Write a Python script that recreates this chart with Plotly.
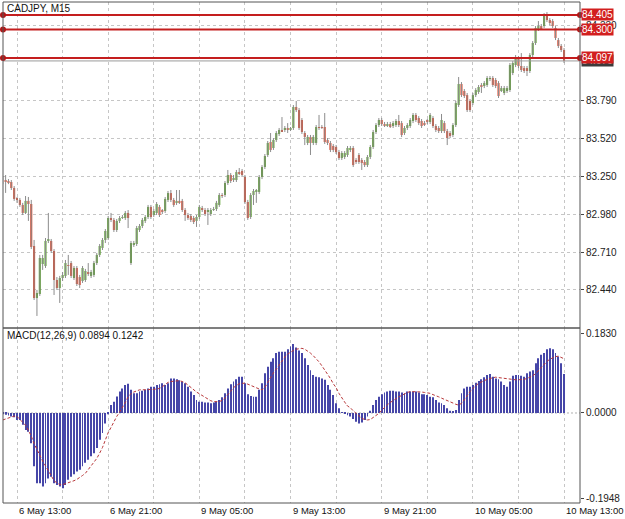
import plotly.graph_objects as go

# ---------------- data ----------------
opens = [83.225,83.225,83.218,83.211,83.168,83.090,83.083,83.047,82.990,83.076,
         83.054,82.754,82.382,82.411,82.625,82.611,82.790,82.790,82.718,82.511,
         82.454,82.525,82.540,82.618,82.632,82.525,82.597,82.532,82.504,82.511,
         82.561,82.540,82.547,82.632,82.690,82.740,82.797,82.811,82.954,82.940,
         82.868,82.933,82.954,82.954,82.990,82.632,82.761,82.768,82.868,82.897,
         82.933,82.961,83.033,82.975,82.990,83.033,83.004,83.004,83.083,83.132,
         83.083,83.062,83.076,83.076,83.011,82.975,82.968,82.954,82.933,82.961,
         83.025,83.011,82.997,82.982,83.011,83.018,83.047,83.118,83.118,83.204,
         83.261,83.225,83.225,83.282,83.290,83.247,83.068,82.961,83.118,83.140,
         83.140,83.247,83.318,83.404,83.497,83.454,83.511,83.554,83.583,83.583,
         83.597,83.583,83.597,83.747,83.725,83.654,83.561,83.490,83.533,83.490,
         83.490,83.604,83.604,83.604,83.511,83.490,83.468,83.461,83.425,83.382,
         83.390,83.404,83.440,83.454,83.368,83.404,83.368,83.354,83.332,83.390,
         83.461,83.568,83.618,83.654,83.625,83.618,83.625,83.611,83.618,83.647,
         83.632,83.561,83.597,83.611,83.647,83.690,83.668,83.647,83.632,83.647,
         83.640,83.668,83.611,83.597,83.575,83.632,83.575,83.561,83.547,83.618,
         83.761,83.911,83.861,83.832,83.790,83.775,83.832,83.854,83.897,83.897,
         83.904,83.947,83.954,83.940,83.918,83.868,83.847,83.861,83.868,83.990,
         84.047,84.097,84.040,84.025,84.025,84.004,84.118,84.204,84.304,84.325,
         84.325,84.404,84.368,84.361,84.311,84.225,84.183,84.154]
highs = [83.247,83.261,83.232,83.225,83.182,83.104,83.097,83.062,83.111,83.104,
         83.083,82.797,82.440,82.690,82.690,82.811,82.990,82.804,82.732,82.532,
         82.540,82.568,82.654,82.690,82.647,82.611,82.611,82.547,82.611,82.590,
         82.632,82.583,82.647,82.704,82.768,82.811,82.875,82.968,82.990,82.954,
         82.947,82.968,82.975,83.004,83.011,82.790,82.790,82.897,82.911,82.954,
         82.975,83.047,83.047,83.018,83.068,83.047,83.018,83.104,83.147,83.154,
         83.097,83.154,83.154,83.090,83.025,82.990,82.982,82.968,82.975,83.047,
         83.040,83.025,83.025,83.025,83.033,83.076,83.132,83.132,83.218,83.297,
         83.275,83.261,83.297,83.311,83.304,83.261,83.083,83.132,83.161,83.161,
         83.261,83.332,83.411,83.504,83.561,83.525,83.575,83.597,83.675,83.611,
         83.632,83.604,83.761,83.790,83.740,83.668,83.575,83.547,83.547,83.547,
         83.618,83.690,83.618,83.704,83.525,83.504,83.482,83.475,83.440,83.432,
         83.432,83.468,83.468,83.468,83.382,83.418,83.382,83.368,83.404,83.475,
         83.583,83.632,83.668,83.668,83.640,83.640,83.640,83.647,83.661,83.690,
         83.647,83.611,83.632,83.668,83.704,83.704,83.682,83.661,83.647,83.661,
         83.704,83.682,83.625,83.611,83.697,83.647,83.590,83.575,83.632,83.790,
         83.961,83.925,83.875,83.847,83.804,83.847,83.882,83.904,83.918,83.932,
         83.968,83.968,83.968,83.954,83.932,83.897,83.897,83.897,84.061,84.075,
         84.118,84.111,84.132,84.040,84.040,84.132,84.218,84.325,84.361,84.340,
         84.418,84.425,84.382,84.375,84.325,84.240,84.197,84.168]
lows = [83.196,83.133,83.196,83.154,83.076,83.062,83.033,82.975,82.982,82.933,
        82.732,82.368,82.254,82.397,82.583,82.597,82.775,82.704,82.404,82.440,
        82.347,82.504,82.525,82.547,82.525,82.511,82.468,82.454,82.490,82.497,
        82.540,82.525,82.532,82.618,82.675,82.725,82.775,82.797,82.925,82.854,
        82.854,82.918,82.947,82.940,82.882,82.618,82.747,82.754,82.854,82.882,
        82.918,82.947,82.947,82.961,82.975,82.961,82.982,82.990,83.068,83.068,
        83.033,83.047,83.054,82.997,82.933,82.940,82.925,82.911,82.890,82.947,
        82.997,82.968,82.904,82.968,83.004,83.004,83.033,83.097,83.104,83.190,
        83.204,83.211,83.211,83.261,83.247,83.054,82.940,82.947,83.047,83.062,
        83.125,83.232,83.304,83.390,83.425,83.440,83.497,83.540,83.568,83.568,
        83.561,83.575,83.583,83.711,83.583,83.554,83.475,83.475,83.404,83.475,
        83.475,83.583,83.590,83.483,83.475,83.425,83.425,83.411,83.368,83.368,
        83.375,83.390,83.425,83.318,83.340,83.340,83.297,83.318,83.318,83.375,
        83.447,83.554,83.604,83.611,83.604,83.604,83.597,83.597,83.604,83.604,
        83.532,83.547,83.583,83.597,83.632,83.640,83.618,83.597,83.611,83.625,
        83.625,83.597,83.568,83.561,83.561,83.561,83.475,83.525,83.532,83.604,
        83.747,83.818,83.811,83.711,83.711,83.761,83.818,83.840,83.847,83.882,
        83.890,83.932,83.890,83.882,83.811,83.854,83.832,83.847,83.854,83.975,
        84.032,84.025,83.997,83.990,83.968,83.990,84.104,84.190,84.290,84.297,
        84.311,84.354,84.332,84.311,84.225,84.168,84.140,84.061]
closes = [83.225,83.218,83.211,83.168,83.090,83.083,83.047,82.990,83.076,83.054,
          82.747,82.382,82.418,82.668,82.668,82.790,82.797,82.718,82.511,82.454,
          82.525,82.547,82.632,82.611,82.540,82.597,82.482,82.475,82.597,82.575,
          82.554,82.568,82.632,82.690,82.754,82.797,82.861,82.954,82.940,82.868,
          82.933,82.954,82.961,82.990,82.954,82.775,82.775,82.882,82.897,82.940,
          82.961,83.033,82.961,83.004,83.054,82.975,82.997,83.090,83.132,83.083,
          83.047,83.076,83.068,83.011,82.975,82.954,82.940,82.925,82.961,83.033,
          83.011,82.982,83.004,83.011,83.018,83.062,83.118,83.111,83.204,83.261,
          83.218,83.240,83.282,83.275,83.261,83.068,82.954,83.118,83.147,83.147,
          83.247,83.318,83.397,83.490,83.440,83.511,83.561,83.583,83.575,83.597,
          83.583,83.590,83.747,83.725,83.597,83.568,83.533,83.533,83.490,83.533,
          83.604,83.597,83.600,83.497,83.490,83.440,83.440,83.425,83.382,83.418,
          83.418,83.454,83.454,83.332,83.354,83.354,83.347,83.332,83.390,83.461,
          83.568,83.618,83.654,83.625,83.618,83.625,83.611,83.632,83.647,83.618,
          83.547,83.597,83.618,83.654,83.690,83.654,83.632,83.611,83.625,83.640,
          83.690,83.611,83.583,83.575,83.654,83.575,83.525,83.540,83.618,83.775,
          83.911,83.832,83.825,83.725,83.725,83.832,83.868,83.890,83.893,83.918,
          83.954,83.954,83.904,83.897,83.825,83.882,83.882,83.882,84.047,84.061,
          84.097,84.040,84.011,84.004,84.004,84.118,84.204,84.311,84.325,84.311,
          84.404,84.368,84.347,84.325,84.240,84.183,84.154,84.076]

macd = [-0.003,-0.004,-0.006,-0.008,-0.010,-0.016,-0.016,-0.027,-0.039,-0.043,
        -0.069,-0.122,-0.161,-0.161,-0.168,-0.161,-0.150,-0.146,-0.161,-0.165,
        -0.168,-0.172,-0.165,-0.153,-0.146,-0.140,-0.134,-0.130,-0.122,-0.114,
        -0.107,-0.099,-0.092,-0.080,-0.061,-0.046,-0.024,-0.003,0.018,0.026,
        0.038,0.049,0.056,0.064,0.067,0.053,0.045,0.045,0.049,0.051,
        0.053,0.056,0.060,0.060,0.064,0.066,0.068,0.064,0.068,0.079,
        0.079,0.077,0.075,0.072,0.068,0.060,0.049,0.041,0.030,0.026,
        0.026,0.024,0.024,0.022,0.024,0.026,0.030,0.036,0.045,0.056,
        0.066,0.072,0.077,0.083,0.083,0.068,0.043,0.039,0.037,0.037,
        0.053,0.068,0.091,0.106,0.117,0.125,0.137,0.140,0.140,0.140,
        0.146,0.152,0.158,0.150,0.143,0.137,0.125,0.110,0.098,0.087,
        0.083,0.082,0.079,0.076,0.064,0.053,0.041,0.022,0.011,0.002,
        -0.002,-0.005,-0.008,-0.014,-0.020,-0.024,-0.022,-0.016,-0.008,0.005,
        0.018,0.030,0.037,0.043,0.047,0.049,0.051,0.051,0.049,0.049,
        0.047,0.045,0.049,0.049,0.049,0.049,0.047,0.043,0.043,0.041,
        0.037,0.036,0.030,0.024,0.022,0.018,0.011,0.005,0.003,0.007,
        0.030,0.045,0.056,0.060,0.060,0.064,0.069,0.073,0.077,0.082,
        0.087,0.089,0.083,0.079,0.077,0.072,0.064,0.060,0.072,0.085,
        0.087,0.087,0.085,0.083,0.091,0.095,0.098,0.114,0.125,0.133,
        0.137,0.146,0.148,0.146,0.137,0.129,0.114,0.0894]
signal = [-0.016,-0.014,-0.011,-0.009,-0.007,-0.008,-0.015,-0.022,-0.028,-0.040,
          -0.053,-0.070,-0.084,-0.097,-0.110,-0.121,-0.133,-0.143,-0.155,-0.160,
          -0.164,-0.164,-0.162,-0.160,-0.158,-0.155,-0.152,-0.148,-0.143,-0.138,
          -0.130,-0.122,-0.113,-0.104,-0.092,-0.079,-0.062,-0.045,-0.033,-0.020,
          -0.008,0.002,0.012,0.024,0.037,0.044,0.048,0.051,0.053,0.053,
          0.053,0.053,0.054,0.054,0.055,0.056,0.060,0.065,0.070,0.072,
          0.073,0.074,0.074,0.072,0.069,0.064,0.058,0.053,0.048,0.044,
          0.040,0.035,0.031,0.028,0.026,0.026,0.026,0.029,0.034,0.042,
          0.050,0.058,0.063,0.067,0.068,0.068,0.066,0.063,0.060,0.058,
          0.055,0.053,0.058,0.070,0.082,0.092,0.100,0.110,0.120,0.128,
          0.135,0.140,0.143,0.146,0.147,0.148,0.146,0.142,0.137,0.131,
          0.125,0.117,0.108,0.099,0.090,0.079,0.067,0.058,0.045,0.034,
          0.025,0.016,0.012,0.005,-0.001,-0.007,-0.012,-0.015,-0.016,-0.015,
          -0.011,-0.007,-0.001,0.006,0.013,0.019,0.024,0.029,0.034,0.037,
          0.040,0.044,0.047,0.049,0.049,0.049,0.049,0.048,0.047,0.046,
          0.045,0.042,0.040,0.037,0.034,0.031,0.028,0.026,0.023,0.020,
          0.018,0.022,0.030,0.040,0.049,0.056,0.063,0.068,0.071,0.075,
          0.077,0.079,0.081,0.082,0.081,0.080,0.079,0.078,0.077,0.076,
          0.076,0.076,0.076,0.077,0.079,0.082,0.085,0.090,0.097,0.104,
          0.112,0.118,0.123,0.126,0.129,0.130,0.128,0.1242]

time_labels = ["6 May 13:00", "6 May 21:00", "9 May 05:00", "9 May 13:00",
               "9 May 21:00", "10 May 05:00", "10 May 13:00"]
label_bars = [5, 37, 69, 101, 133, 165, 197]
grid_bars = [5, 21, 37, 53, 69, 85, 101, 117, 133, 149, 165, 181, 197]
price_ticks = [84.330, 83.790, 83.520, 83.250, 82.980, 82.710, 82.440]
level_lines = [84.405, 84.300, 84.097]
bid_price = 84.076
macd_ticks = [0.1830, 0.0, -0.1948]
macd_ticktext = ["0.1830", "0.0000", "-0.1948"]

# ---------------- layout geometry ----------------
W, H = 625, 519
XL, XR = 3 / W, 580 / W
MAIN = [1 - 328 / H, 1 - 2 / H]
SUB = [1 - 503 / H, 1 - 328 / H]
FONT = "Liberation Sans, Arial, sans-serif"
GREEN, RED, WICK = "#58a12b", "#e2462a", "#8c8c8c"
GRID = "#c6c6c6"

idx = list(range(len(closes)))

wx, wy = [], []
for i, hi, lo in zip(idx, highs, lows):
    wx += [i, i, None]
    wy += [lo, hi, None]

body_base = [min(o, c) for o, c in zip(opens, closes)]
body_h = [abs(c - o) for o, c in zip(opens, closes)]
body_col = [GREEN if c >= o else RED for o, c in zip(opens, closes)]

fig = go.Figure()
fig.add_trace(go.Scatter(x=wx, y=wy, mode="lines", line=dict(color=WICK, width=1),
                         hoverinfo="skip", xaxis="x", yaxis="y"))
fig.add_trace(go.Bar(x=idx, base=body_base, y=body_h, width=0.72,
                     marker=dict(color=body_col, line=dict(width=0)),
                     xaxis="x", yaxis="y"))
fig.add_trace(go.Bar(x=idx, y=macd, width=0.32,
                     marker=dict(color="#4646a8", line=dict(width=0)),
                     xaxis="x2", yaxis="y2"))
fig.add_trace(go.Scatter(x=idx, y=signal, mode="lines",
                         line=dict(color="#b8383a", width=1, dash="3px,2px"),
                         xaxis="x2", yaxis="y2"))

xcommon = dict(domain=[XL, XR], range=[0.084, 202.6], tickvals=grid_bars,
               showticklabels=False, showgrid=True, gridcolor=GRID, griddash="3px,3px",
               gridwidth=1, zeroline=False, showline=False, ticks="", fixedrange=True)

shapes = []
# MACD zero line
shapes.append(dict(type="line", xref="paper", yref="y2", x0=XL, x1=XR, y0=0, y1=0,
                   line=dict(color="#b0b0b0", width=1, dash="2px,2px"), layer="below"))
# bid line
shapes.append(dict(type="line", xref="paper", yref="y", x0=XL, x1=XR, y0=bid_price, y1=bid_price,
                   line=dict(color="#9a9a9a", width=1)))
# level lines with end dots
for p in level_lines:
    shapes.append(dict(type="line", xref="paper", yref="y", x0=XL, x1=XR, y0=p, y1=p,
                       line=dict(color="#c41e1e", width=2)))
    for xa in (XL, XR):
        shapes.append(dict(type="circle", xref="paper", yref="y", xsizemode="pixel",
                           ysizemode="pixel", xanchor=xa, yanchor=p, x0=-3, x1=3, y0=-3, y1=3,
                           fillcolor="#b01818", line=dict(color="#b01818", width=0)))
# pane frames
for dom in (MAIN, SUB):
    shapes.append(dict(type="rect", xref="paper", yref="paper", x0=XL, x1=XR,
                       y0=dom[0], y1=dom[1], line=dict(color="#555555", width=1)))

annotations = []
annotations.append(dict(text="CADJPY, M15", xref="paper", yref="paper", x=5 / W, y=1 - 8 / H,
                        xanchor="left", yanchor="middle", showarrow=False,
                        font=dict(family=FONT, size=10, color="#111")))
annotations.append(dict(text="MACD(12,26,9) 0.0894 0.1242", xref="paper", yref="paper",
                        x=5 / W, y=1 - 335 / H, xanchor="left", yanchor="middle",
                        showarrow=False, font=dict(family=FONT, size=10, color="#111")))
for b, t in zip(label_bars, time_labels):
    annotations.append(dict(text=t, xref="x2", yref="paper", x=b, y=1 - 510 / H,
                            xanchor="left", yanchor="middle", showarrow=False,
                            font=dict(family=FONT, size=9.5, color="#111")))
annotations.append(dict(text=f"{bid_price:.3f}", xref="paper", yref="y", x=581 / W, y=bid_price,
                        xanchor="left", yanchor="middle", showarrow=False, bgcolor="#3c3c3c",
                        borderpad=0, font=dict(family=FONT, size=10, color="#dddddd")))
for p in level_lines:
    annotations.append(dict(text=f"{p:.3f}", xref="paper", yref="y", x=581 / W, y=p,
                            xanchor="left", yanchor="middle", showarrow=False, bgcolor="#d21f1f",
                            borderpad=0, font=dict(family=FONT, size=10, color="white")))

fig.update_layout(
    width=W, height=H, margin=dict(l=0, r=0, t=0, b=0, pad=0),
    paper_bgcolor="white", plot_bgcolor="white", showlegend=False, barmode="overlay",
    xaxis=dict(anchor="y", **xcommon),
    xaxis2=dict(anchor="y2", matches="x", **xcommon),
    yaxis=dict(domain=MAIN, range=[82.168, 84.497], side="right", anchor="x",
               tickvals=price_ticks, ticktext=[f"{v:.3f}" for v in price_ticks],
               showgrid=True, gridcolor=GRID, griddash="3px,3px", zeroline=False,
               ticks="outside", ticklen=3, tickcolor="#444", showline=False,
               tickfont=dict(family=FONT, size=10, color="#222"), fixedrange=True),
    yaxis2=dict(domain=SUB, range=[-0.206, 0.1945], side="right", anchor="x2",
                tickvals=macd_ticks, ticktext=macd_ticktext, showgrid=False, zeroline=False,
                ticks="outside", ticklen=3, tickcolor="#444", showline=False,
                tickfont=dict(family=FONT, size=10, color="#222"), fixedrange=True),
    shapes=shapes, annotations=annotations,
)

fig.write_html("out.html")
